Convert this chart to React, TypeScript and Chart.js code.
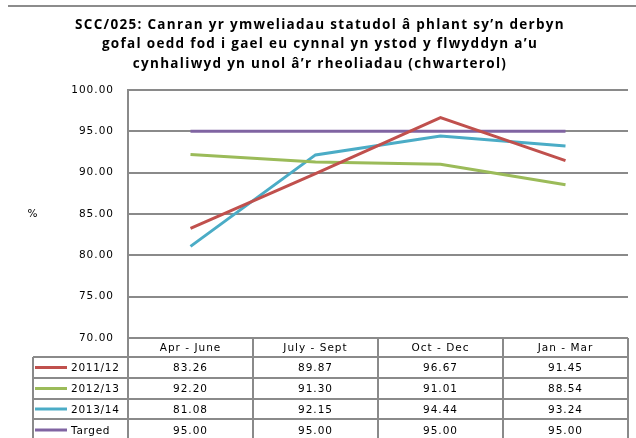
import React, { useEffect, useRef } from "react";
import { Chart, registerables } from "chart.js";

Chart.register(...registerables);

const categories = ["Apr - June", "July - Sept", "Oct - Dec", "Jan - Mar"];
const seriesNames = ["2011/12", "2012/13", "2013/14", "Targed"];
const s2011 = [83.26, 89.87, 96.67, 91.45];
const s2012 = [92.2, 91.3, 91.01, 88.54];
const s2013 = [81.08, 92.15, 94.44, 93.24];
const sTarget = [95.0, 95.0, 95.0, 95.0];
const seriesColors = ["#C0504D", "#9BBB59", "#4BACC6", "#8064A2"];
const titleLines = [
  "SCC/025: Canran yr ymweliadau statudol â phlant sy\u2019n derbyn",
  "gofal oedd fod i gael eu cynnal yn ystod y flwyddyn a\u2019u",
  "cynhaliwyd yn unol â\u2019r rheoliadau (chwarterol)",
];
const yAxisLabel = "%";

const GRID = "#8a8a8a";
const TEXT_FONT = "10.5px 'DejaVu Sans'";

export default function App() {
  const ref = useRef<HTMLCanvasElement | null>(null);
  useEffect(() => {
    const canvas = ref.current;
    if (!canvas) return;
    const allSeries = [s2011, s2012, s2013, sTarget];

    const spacingPlugin = {
      id: "spacing",
      beforeDraw(chart: any) {
        (chart.ctx as any).letterSpacing = "1px";
      },
    };

    const tablePlugin = {
      id: "extras",
      afterDraw(chart: any) {
        const ctx = chart.ctx as any;
        const xs = chart.scales.x;
        const area = chart.chartArea;
        ctx.save();
        ctx.strokeStyle = "#8c8c8c";
        ctx.lineWidth = 2;
        ctx.beginPath();
        ctx.moveTo(8, 6);
        ctx.lineTo(636, 6);
        ctx.stroke();

        ctx.fillStyle = "#000";
        ctx.letterSpacing = "1.3px";
        ctx.font = "bold 13.5px 'Open Sans'";
        ctx.textAlign = "center";
        ctx.textBaseline = "middle";
        titleLines.forEach((t, i) => ctx.fillText(t, 320, 25 + i * 19.5));

        ctx.letterSpacing = "1px";
        ctx.font = TEXT_FONT;
        ctx.fillText(yAxisLabel, 33, 214);

        const rowTops = [area.bottom, area.bottom + 19, area.bottom + 40, area.bottom + 61, area.bottom + 81, area.bottom + 103];
        const colW = (area.right - area.left) / categories.length;
        const colEdges = categories.map((_, i) => area.left + i * colW).concat([area.right]);
        const tableLeft = 33;
        ctx.strokeStyle = GRID;
        ctx.lineWidth = 2;
        ctx.beginPath();
        for (let r = 1; r < rowTops.length; r++) {
          ctx.moveTo(tableLeft, rowTops[r]);
          ctx.lineTo(area.right, rowTops[r]);
        }
        colEdges.forEach((x) => {
          ctx.moveTo(x, rowTops[0]);
          ctx.lineTo(x, rowTops[5]);
        });
        ctx.moveTo(tableLeft, rowTops[1]);
        ctx.lineTo(tableLeft, rowTops[5]);
        ctx.stroke();

        ctx.fillStyle = "#000";
        ctx.font = TEXT_FONT;
        ctx.textAlign = "center";
        categories.forEach((c, i) => {
          const cx = xs.getPixelForValue(i);
          ctx.fillText(c, cx, (rowTops[0] + rowTops[1]) / 2 + 1);
        });
        allSeries.forEach((vals, r) => {
          const cy = (rowTops[r + 1] + rowTops[r + 2]) / 2 + 1;
          ctx.letterSpacing = "1px";
          vals.forEach((v, i) => {
            ctx.textAlign = "center";
            ctx.fillText(v.toFixed(2), xs.getPixelForValue(i), cy);
          });
          ctx.strokeStyle = seriesColors[r];
          ctx.lineWidth = 3;
          ctx.beginPath();
          ctx.moveTo(35, cy - 1);
          ctx.lineTo(67, cy - 1);
          ctx.stroke();
          ctx.textAlign = "left";
          ctx.letterSpacing = "0.7px";
          ctx.fillText(seriesNames[r], 71, cy);
        });
        ctx.restore();
      },
    };

    const chart = new Chart(canvas, {
      type: "line",
      data: {
        labels: categories,
        datasets: allSeries.map((d, i) => ({
          label: seriesNames[i],
          data: d,
          borderColor: seriesColors[i],
          backgroundColor: seriesColors[i],
          borderWidth: 3,
          pointRadius: 0,
          tension: 0,
          fill: false,
        })),
      },
      options: {
        responsive: false,
        animation: false,
        layout: { padding: { left: 0, top: 90, right: 8, bottom: 100 } },
        plugins: { legend: { display: false }, title: { display: false }, tooltip: { enabled: false } },
        scales: {
          x: {
            display: false,
            offset: true,
          },
          y: {
            min: 70,
            max: 100,
            afterFit: (scale: any) => {
              scale.width = 128;
            },
            ticks: {
              stepSize: 5,
              padding: 14,
              color: "#000",
              font: { family: "'DejaVu Sans'", size: 10.5 },
              callback: (v: any) => Number(v).toFixed(2),
            },
            grid: { color: GRID, lineWidth: 2, drawTicks: false },
            border: { color: GRID, width: 2 },
          },
        },
      },
      plugins: [spacingPlugin, tablePlugin],
    });
    return () => chart.destroy();
  }, []);

  return (
    <div style={{ position: "absolute", left: 0, top: 0, width: 636, height: 438, background: "#fff" }}>
      <canvas ref={ref} width={636} height={438} />
    </div>
  );
}
